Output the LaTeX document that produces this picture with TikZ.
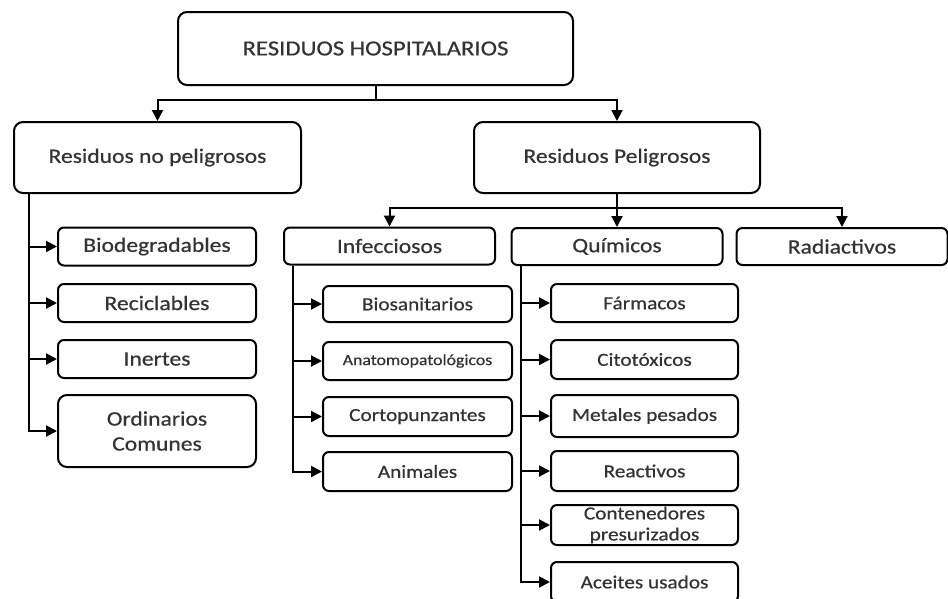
\documentclass[tikz,border=0pt]{standalone}
\usepackage{fontspec}
\setmainfont{Carlito}[FakeStretch=1.15,FakeBold=0.6]
\usetikzlibrary{arrows.meta}
\tikzset{
  caja/.style={draw,line width=2pt,rounded corners=9pt,text=black!80,inner sep=0pt,align=center},
  cajita/.style={caja,rounded corners=6pt,minimum height=38pt},
  flecha/.style={line width=2pt,-{Triangle[length=11pt,width=11pt]}},
}
\begin{document}
\begin{tikzpicture}[x=1pt,y=-1pt]
\useasboundingbox (0,0) rectangle (948,598);
\node[caja,minimum width=395pt,minimum height=73pt,font=\fontsize{21.5}{26}\selectfont] (res) at (375.5,48.5) {RESIDUOS HOSPITALARIOS};
\node[caja,minimum width=287pt,minimum height=71pt,font=\fontsize{20.5}{24}\selectfont] (nopel) at (157.5,157.5) {Residuos no peligrosos};
\node[caja,minimum width=286pt,minimum height=71pt,font=\fontsize{20.5}{24}\selectfont] (pel) at (617,157.5) {Residuos Peligrosos};
% tipos de peligrosos
\begin{scope}[every node/.style={cajita,minimum width=211pt,minimum height=37pt,font=\fontsize{20.5}{24}\selectfont}]
\node (inf) at (389.5,246) {Infecciosos};
\node (qui) at (617,246.5) {Químicos};
\node (rad) at (842,246.5) {Radiactivos};
\end{scope}
% no peligrosos
\begin{scope}[every node/.style={cajita,minimum width=198pt,font=\fontsize{20.5}{25}\selectfont}]
\node (bio) at (157,246.5) {Biodegradables};
\node (rec) at (157,303) {Reciclables};
\node (ine) at (157,359) {Inertes};
\node[minimum height=72pt,rounded corners=9pt] (ord) at (157,431) {Ordinarios\\Comunes};
\end{scope}
% infecciosos
\begin{scope}[every node/.style={cajita,minimum width=189pt,font=\fontsize{18.5}{22}\selectfont}]
\node[minimum height=36pt] (bsan) at (417.5,304) {Biosanitarios};
\node[font=\fontsize{15.5}{18}\selectfont] (anat) at (417.5,361) {Anatomopatológicos};
\node[minimum height=39pt] (cort) at (417.5,416.5) {Cortopunzantes};
\node[minimum height=39pt] (anim) at (417.5,471.5) {Animales};
\end{scope}
% quimicos
\begin{scope}[every node/.style={cajita,minimum width=187pt,font=\fontsize{18.5}{22}\selectfont}]
\node (farm) at (644.5,303) {Fármacos};
\node[minimum height=39pt] (cito) at (644.5,359.5) {Citotóxicos};
\node[minimum height=42pt] (met) at (644.5,416) {Metales pesados};
\node[minimum height=40pt] (reac) at (644.5,471) {Reactivos};
\node[minimum height=40pt,font=\fontsize{18.5}{21}\selectfont] (cont) at (644.5,525) {Contenedores\\presurizados};
\node[minimum height=40pt] (acei) at (644.5,582) {Aceites usados};
\end{scope}

\draw[flecha] (res.south) -- ++(0,14) -| (nopel.north);
\draw[flecha] (res.south) -- ++(0,14) -| (pel.north);
\foreach \n in {inf,qui,rad}
  \draw[flecha] (pel.south) -- ++(0,14) -| (\n.north);
\foreach \n in {bio,rec,ine,ord}
  \draw[flecha] ([xshift=16pt]nopel.south west) |- (\n.west);
\foreach \n in {bsan,anat,cort,anim}
  \draw[flecha] ([xshift=10pt]inf.south west) |- (\n.west);
\foreach \n in {farm,cito,met,reac,cont,acei}
  \draw[flecha] ([xshift=10pt]qui.south west) |- (\n.west);
\end{tikzpicture}
\end{document}
